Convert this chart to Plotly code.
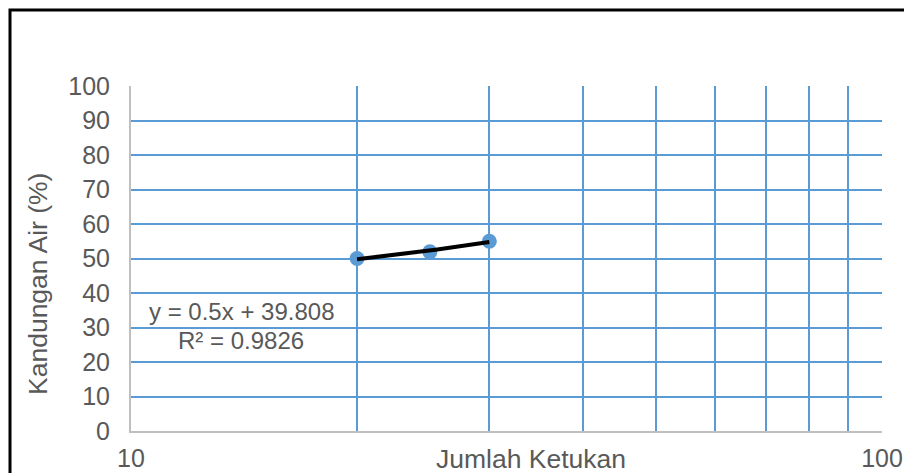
import numpy as np
import plotly.graph_objects as go

# Blow counts vs. water content (Atterberg liquid-limit test)
jumlah_ketukan = [20, 25, 30]
kandungan_air = [50.0, 51.924, 55.0]

x_tick_vals = [10, 20, 30, 40, 50, 60, 70, 80, 90, 100]
x_tick_text = ["10", "", "", "", "", "", "", "", "", "100"]
y_tick_vals = [0, 10, 20, 30, 40, 50, 60, 70, 80, 90, 100]

W, H = 904, 473
ML, MR, MT, MB = 131, 22, 86, 42
PW, PH = W - ML - MR, H - MT - MB

TEXT = "#595959"
BLUE = "#5B9BD5"
AXIS = "#BFBFBF"
FONT = "Liberation Sans, Arial, sans-serif"


def px_x(px):
    return (px - ML) / PW


def px_y(py):
    return (H - MB - py) / PH


# Linear least-squares trendline
slope, intercept = np.polyfit(jumlah_ketukan, kandungan_air, 1)
pred = np.polyval([slope, intercept], jumlah_ketukan)
y_arr = np.array(kandungan_air)
r2 = 1 - np.sum((y_arr - pred) ** 2) / np.sum((y_arr - y_arr.mean()) ** 2)
tx = np.linspace(min(jumlah_ketukan), max(jumlah_ketukan), 50)
ty = slope * tx + intercept

fig = go.Figure()
fig.add_trace(go.Scatter(
    x=jumlah_ketukan, y=kandungan_air, mode="markers",
    marker=dict(size=15, color=BLUE), showlegend=False,
))
fig.add_trace(go.Scatter(
    x=tx, y=ty, mode="lines",
    line=dict(color="black", width=4), showlegend=False,
))

fig.update_layout(
    width=W, height=H,
    margin=dict(l=ML, r=MR, t=MT, b=MB),
    paper_bgcolor="white", plot_bgcolor="white",
    font=dict(family=FONT, size=25, color=TEXT),
    xaxis=dict(
        type="log", range=[1, 2], automargin=False,
        tickvals=x_tick_vals, ticktext=x_tick_text,
        showgrid=True, gridcolor=BLUE, gridwidth=1.6,
        showline=True, linecolor=AXIS, linewidth=2,
        ticks="", ticklabelstandoff=4,
        tickfont=dict(size=25, color=TEXT),
        zeroline=False,
    ),
    yaxis=dict(
        range=[0, 100], tickvals=y_tick_vals, automargin=False,
        showgrid=True, gridcolor=BLUE, gridwidth=1.6,
        showline=True, linecolor=AXIS, linewidth=2,
        ticks="", ticklabelstandoff=14,
        tickfont=dict(size=25, color=TEXT),
        zeroline=False,
    ),
    shapes=[
        # outer chart frame (top and left edges, open towards the page edge)
        dict(type="path", xref="paper", yref="paper",
             path=(f"M {px_x(10)},{px_y(473)} L {px_x(10)},{px_y(10)} "
                   f"L {px_x(904)},{px_y(10)}"),
             line=dict(color="black", width=3)),
    ],
    annotations=[
        dict(text=f"y = {slope:.4g}x + {intercept:.3f}", xref="paper", yref="paper",
             x=px_x(241), y=px_y(311), xanchor="center", yanchor="middle",
             showarrow=False, font=dict(size=24, color=TEXT)),
        dict(text=f"R² = {r2:.4f}", xref="paper", yref="paper",
             x=px_x(241), y=px_y(340), xanchor="center", yanchor="middle",
             showarrow=False, font=dict(size=24, color=TEXT)),
        dict(text="Jumlah Ketukan", xref="paper", yref="paper",
             x=px_x(531), y=px_y(459), xanchor="center", yanchor="middle",
             showarrow=False, font=dict(size=26.5, color=TEXT)),
        dict(text="Kandungan Air (%)", xref="paper", yref="paper",
             x=px_x(38), y=px_y(284), xanchor="center", yanchor="middle",
             textangle=-90, showarrow=False, font=dict(size=26.5, color=TEXT)),
    ],
)

fig.write_html("out.html")
